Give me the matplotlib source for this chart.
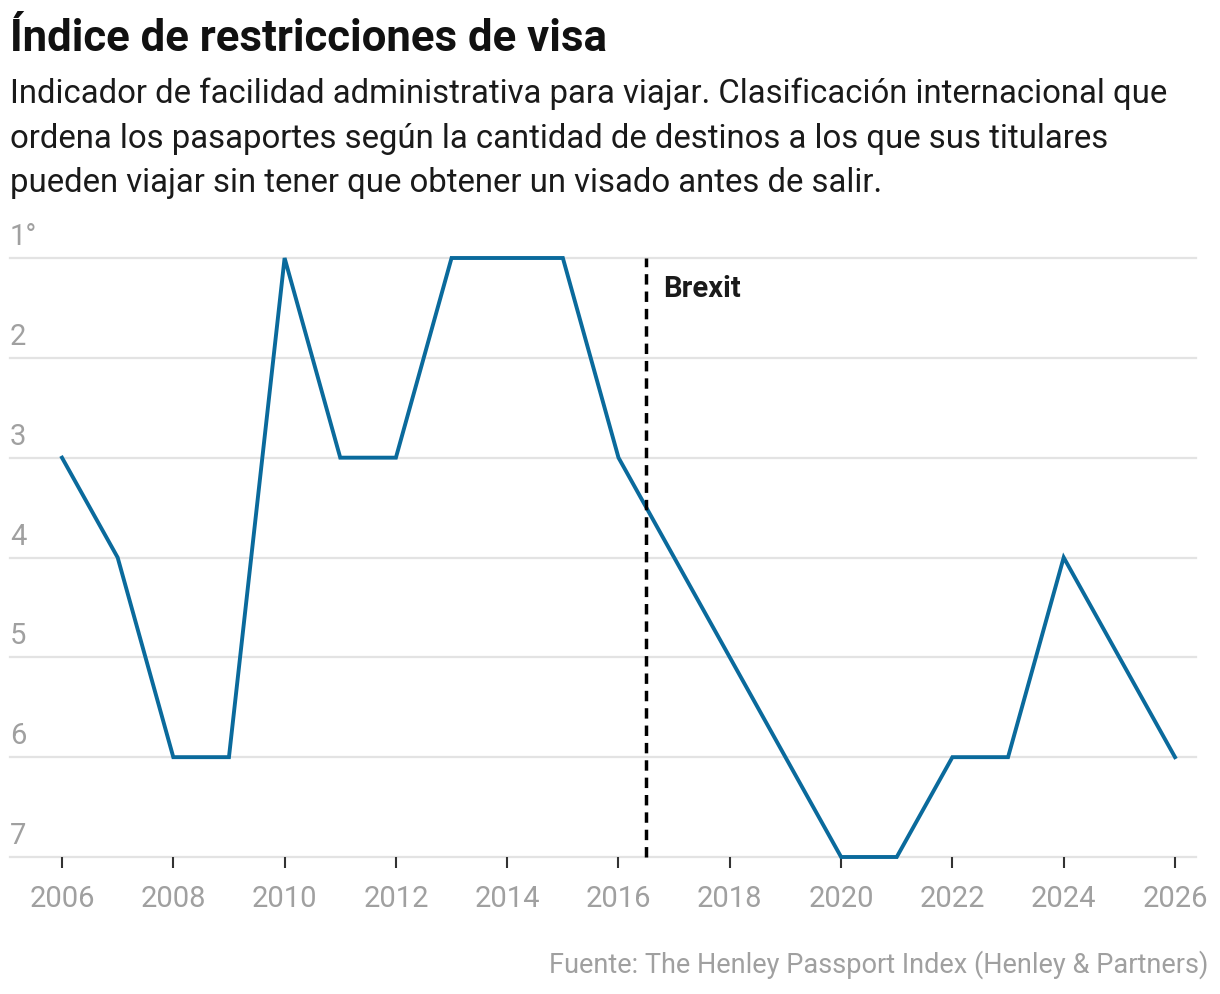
import matplotlib
matplotlib.use("Agg")
import matplotlib.pyplot as plt
import matplotlib.transforms as mtransforms

# data
years = [2006, 2007, 2008, 2009, 2010, 2011, 2012, 2013, 2014, 2015, 2016,
         2017, 2018, 2019, 2020, 2021, 2022, 2023, 2024, 2025, 2026]
rank = [3, 4, 6, 6, 1, 3, 3, 1, 1, 1, 3,
        4, 5, 6, 7, 7, 6, 6, 4, 5, 6]
brexit_year = 2016.5
y_ticks = [1, 2, 3, 4, 5, 6, 7]
y_labels = ["1°", "2", "3", "4", "5", "6", "7"]
x_ticks = list(range(2006, 2027, 2))

title = "Índice de restricciones de visa"
subtitle = ("Indicador de facilidad administrativa para viajar. Clasificación internacional que\n"
            "ordena los pasaportes según la cantidad de destinos a los que sus titulares\n"
            "pueden viajar sin tener que obtener un visado antes de salir.")
source = "Fuente: The Henley Passport Index (Henley & Partners)"

FONT = ["Liberation Sans Narrow", "Roboto", "DejaVu Sans"]
GRAY = "#a0a0a0"
BLUE = "#0a6a9c"

W, H = 1220, 994
fig = plt.figure(figsize=(W / 100, H / 100), dpi=100)

# axes placed in pixels: left grid edge 10, right 1196, y=1 at 258, y=7 at 857
x_left_px, x_right_px = 10, 1196
top_px, bot_px = 258, 857
ax = fig.add_axes([x_left_px / W, 1 - bot_px / H,
                   (x_right_px - x_left_px) / W, (bot_px - top_px) / H])

px_per_year = (1175 - 62) / 20
ax.set_xlim(2006 - (62 - x_left_px) / px_per_year,
            2026 + (x_right_px - 1175) / px_per_year)
ax.set_ylim(7, 1)

for v in y_ticks:
    ax.axhline(v, color="#e3e3e3", lw=1.6, zorder=1, clip_on=False)

trans = mtransforms.blended_transform_factory(ax.transAxes, ax.transData)
for v, lab in zip(y_ticks, y_labels):
    ax.text(0, v - 0.07, lab, transform=trans, ha="left", va="bottom",
            fontsize=21, color=GRAY, family=FONT)

ax.plot(years, rank, color=BLUE, lw=2.8, zorder=3, clip_on=False,
        solid_joinstyle="miter")

ax.axvline(brexit_year, color="black", lw=2.5, ls=(0, (3.0, 2.0)), zorder=4,
           clip_on=False)
ax.text(brexit_year + 0.3, 1.31, "Brexit", fontsize=21, fontweight="bold",
        color="#1a1a1a", family=FONT, va="center", ha="left")

ax.set_xticks(x_ticks)
ax.set_xticklabels([str(x) for x in x_ticks], fontsize=21, color=GRAY,
                   family=FONT)
ax.tick_params(axis="x", length=8, width=1.5, color="#333333", pad=12)
ax.set_yticks([])
for s in ax.spines.values():
    s.set_visible(False)

fig.text(10 / W, 1 - 39 / H, title, fontsize=31.5, fontweight="bold",
         family=FONT, color="#111111", va="center", ha="left")
fig.text(10 / W, 1 - 78 / H, subtitle, fontsize=23.7, family=FONT,
         color="#1a1a1a", va="top", ha="left", linespacing=1.5)
fig.text(1208 / W, 1 - 965 / H, source, fontsize=19.5, family=FONT,
         color=GRAY, va="center", ha="right")

fig.savefig("out.png", dpi=100)
